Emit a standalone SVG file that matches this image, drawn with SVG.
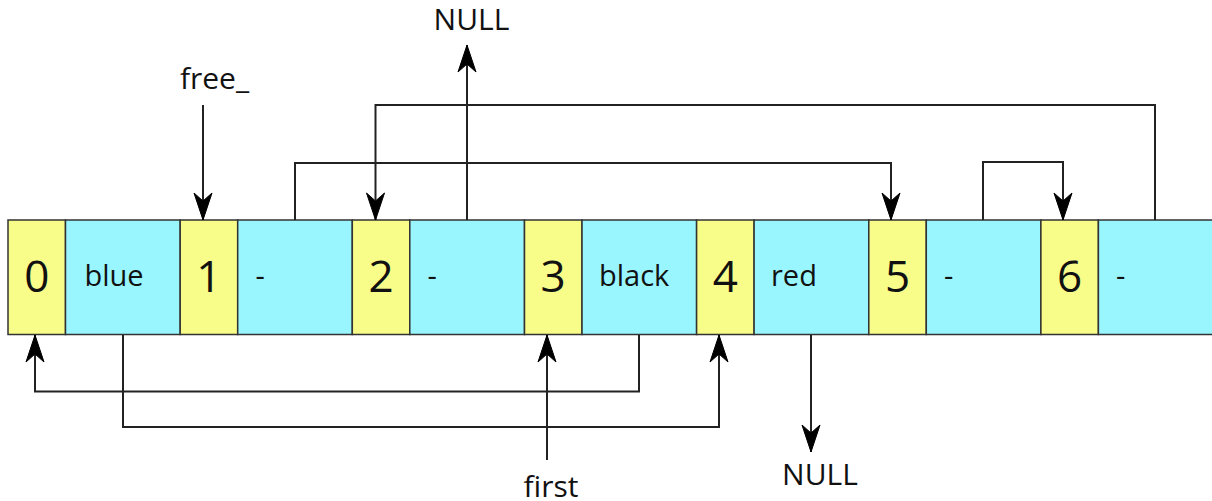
<svg xmlns="http://www.w3.org/2000/svg" width="1212" height="501" viewBox="0 0 1212 501">
<style>
.y{fill:#f8fc88;stroke:#333;stroke-width:1.5}
.c{fill:#9af6fe;stroke:#333;stroke-width:1.5}
.d{font-family:"Open Sans","Noto Sans",sans-serif;font-size:44px;fill:#111;text-anchor:middle}
.t{font-family:"Open Sans","Noto Sans",sans-serif;font-size:29px;fill:#111}
.l{font-family:"Open Sans","Noto Sans",sans-serif;font-size:30px;fill:#111;text-anchor:middle}
.w{fill:none;stroke:#222;stroke-width:2}
</style>
<defs>
<marker id="ah" viewBox="-30 -10 32 20" refX="0" refY="0" markerWidth="32" markerHeight="20" markerUnits="userSpaceOnUse" orient="auto">
<path d="M0,0 L-27,-9 L-19,0 L-27,9 Z" fill="#000" stroke="#000" stroke-width="1" stroke-linejoin="miter"/>
</marker>
</defs>
<rect x="0" y="0" width="1212" height="501" fill="#fff"/>
<g id="cell0"><rect class="y" x="8" y="220" width="57.5" height="114.5"/><text class="d" x="36.8" y="292">0</text></g>
<g id="val0"><rect class="c" x="65.5" y="220" width="114.7" height="114.5"/><text class="t" x="84.5" y="286">blue</text></g>
<g id="cell1"><rect class="y" x="180.2" y="220" width="57.5" height="114.5"/><text class="d" x="208.9" y="292">1</text></g>
<g id="val1"><rect class="c" x="237.7" y="220" width="114.6" height="114.5"/><text class="t" x="255.5" y="286">-</text></g>
<g id="cell2"><rect class="y" x="352.3" y="220" width="57.5" height="114.5"/><text class="d" x="381" y="292">2</text></g>
<g id="val2"><rect class="c" x="409.8" y="220" width="114.7" height="114.5"/><text class="t" x="427.5" y="286">-</text></g>
<g id="cell3"><rect class="y" x="524.5" y="220" width="57.5" height="114.5"/><text class="d" x="553.2" y="292">3</text></g>
<g id="val3"><rect class="c" x="582" y="220" width="114.6" height="114.5"/><text class="t" x="599" y="286">black</text></g>
<g id="cell4"><rect class="y" x="696.6" y="220" width="57.5" height="114.5"/><text class="d" x="725.3" y="292">4</text></g>
<g id="val4"><rect class="c" x="754.1" y="220" width="114.7" height="114.5"/><text class="t" x="771" y="286">red</text></g>
<g id="cell5"><rect class="y" x="868.8" y="220" width="57.5" height="114.5"/><text class="d" x="897.5" y="292">5</text></g>
<g id="val5"><rect class="c" x="926.3" y="220" width="114.6" height="114.5"/><text class="t" x="944" y="286">-</text></g>
<g id="cell6"><rect class="y" x="1040.9" y="220" width="57.5" height="114.5"/><text class="d" x="1069.6" y="292">6</text></g>
<g id="val6"><rect class="c" x="1098.4" y="220" width="116" height="114.5"/><text class="t" x="1116" y="286">-</text></g>
<g id="labels">
<text class="l" x="214.5" y="89">free_</text>
<text class="l" x="471.5" y="30">NULL</text>
<text class="l" x="551" y="497">first</text>
<text class="l" x="820" y="485">NULL</text>
</g>
<g id="connectors">
<path class="w" d="M203,105 V220" marker-end="url(#ah)"/>
<path class="w" d="M467,220 V45" marker-end="url(#ah)"/>
<path class="w" d="M295,220 V163 H891 V220" marker-end="url(#ah)"/>
<path class="w" d="M1155,220 V105 H375.5 V220" marker-end="url(#ah)"/>
<path class="w" d="M983,220 V162 H1063 V220" marker-end="url(#ah)"/>
<path class="w" d="M123,335 V427 H719 V335" marker-end="url(#ah)"/>
<path class="w" d="M639,335 V391.5 H35 V335" marker-end="url(#ah)"/>
<path class="w" d="M547,460 V335" marker-end="url(#ah)"/>
<path class="w" d="M811,335 V452" marker-end="url(#ah)"/>
</g>
</svg>
